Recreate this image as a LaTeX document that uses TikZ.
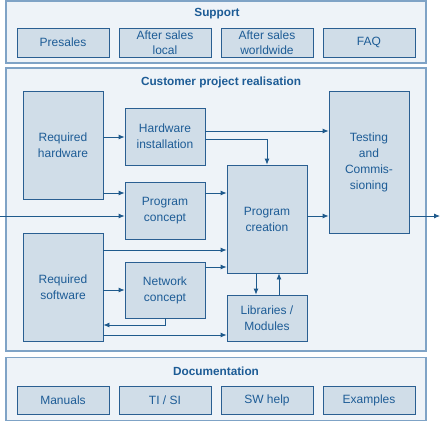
\documentclass[tikz,border=0pt]{standalone}
\usepackage{fontspec}
\setmainfont{Liberation Sans}
\usetikzlibrary{arrows.meta}
\definecolor{frameline}{HTML}{7FA3C6}
\definecolor{framefill}{HTML}{EEF3F8}
\definecolor{boxfill}{HTML}{D0DDE8}
\definecolor{boxline}{HTML}{2A5F92}
\definecolor{txt}{HTML}{1D5C96}
\definecolor{arrowc}{HTML}{1F5A8C}
\begin{document}
\begin{tikzpicture}[x=1pt,y=-1pt,
  frame/.style={draw=frameline,fill=framefill,line width=1.4pt,inner sep=0pt},
  box/.style={draw=boxline,fill=boxfill,line width=0.8pt,minimum width=80pt,align=center,text=txt,inner sep=1pt,
    font=\fontsize{12}{16}\selectfont},
  sbox/.style={box,minimum width=92pt,font=\fontsize{12}{14.5}\selectfont},
  title/.style={text=txt,font=\fontsize{11.8}{14}\selectfont\bfseries},
  arr/.style={draw=arrowc,line width=0.8pt,-{Latex[length=6pt,width=5pt]}},
  ln/.style={draw=arrowc,line width=0.8pt}]
\useasboundingbox (0,0) rectangle (440,421);
\fill[white] (0,0) rectangle (440,421);
% frames
\node[frame,minimum width=420pt,minimum height=62pt] (fsup) at (216,32) {};
\node[frame,minimum width=420pt,minimum height=283pt] (fcpr) at (216,209.5) {};
\node[frame,minimum width=420pt,minimum height=63pt] (fdoc) at (216,389) {};
\node[title] (tsup) at (217,14) {Support};
\node[title] (tcpr) at (221,82) {Customer project realisation};
\node[title] (tdoc) at (216,371) {Documentation};
% support boxes
\node[sbox,minimum height=29pt] (s1) at (63,42.5) {Presales};
\node[sbox,minimum height=29pt] (s2) at (165,42.5) {After sales\\local};
\node[sbox,minimum height=29pt] (s3) at (267,42.5) {After sales\\worldwide};
\node[sbox,minimum height=29pt] (s4) at (369,42.5) {FAQ};
% documentation boxes
\node[sbox,minimum height=28pt] (d1) at (63,400) {Manuals};
\node[sbox,minimum height=28pt] (d2) at (165,400) {TI / SI};
\node[sbox,minimum height=28pt] (d3) at (267,400) {SW help};
\node[sbox,minimum height=28pt] (d4) at (369,400) {Examples};
% process boxes
\node[box,minimum height=108pt] (rhw) at (63,145) {Required\\hardware};
\node[box,minimum height=57pt] (hwi) at (165,136.5) {Hardware\\installation};
\node[box,minimum height=57pt] (pco) at (165,210.5) {Program\\concept};
\node[box,minimum height=108pt] (rsw) at (63,287) {Required\\software};
\node[box,minimum height=56pt] (nco) at (165,290) {Network\\concept};
\node[box,minimum height=108pt] (pcr) at (267,219) {Program\\creation};
\node[box,minimum height=46pt] (lib) at (267,318) {Libraries /\\Modules};
\node[box,minimum height=142pt] (tst) at (369,162) {Testing\\and\\Commis-\\sioning};
\coordinate (in) at (0,216);
\coordinate (out) at (440,216);
% connectors
\draw[arr] (rhw.east |- 0,137) -- (hwi.west |- 0,137);
\draw[arr] (rhw.east |- 0,193) -- (pco.west |- 0,193);
\draw[arr] (in) -- (pco.west |- in);
\draw[arr] (hwi.east |- 0,131) -- (tst.west |- 0,131);
\draw[arr] (hwi.east |- 0,139) -- (267,139) -- (pcr.north);
\draw[arr] (pco.east |- 0,193) -- (pcr.west |- 0,193);
\draw[arr] (rsw.east |- 0,250) -- (pcr.west |- 0,250);
\draw[arr] (nco.east |- 0,267) -- (pcr.west |- 0,267);
\draw[arr] (rsw.east |- 0,290) -- (nco.west |- 0,290);
\draw[arr] (nco.south -| 165,0) -- (165,325) -- (rsw.east |- 0,325);
\draw[arr] (rsw.east |- 0,335) -- (lib.west |- 0,335);
\draw[arr] (pcr.south -| 256,0) -- (lib.north -| 256,0);
\draw[arr] (lib.north -| 279,0) -- (pcr.south -| 279,0);
\draw[arr] (pcr.east |- 0,216) -- (tst.west |- 0,216);
\draw[arr] (tst.east |- out) -- (out);
\end{tikzpicture}
\end{document}
